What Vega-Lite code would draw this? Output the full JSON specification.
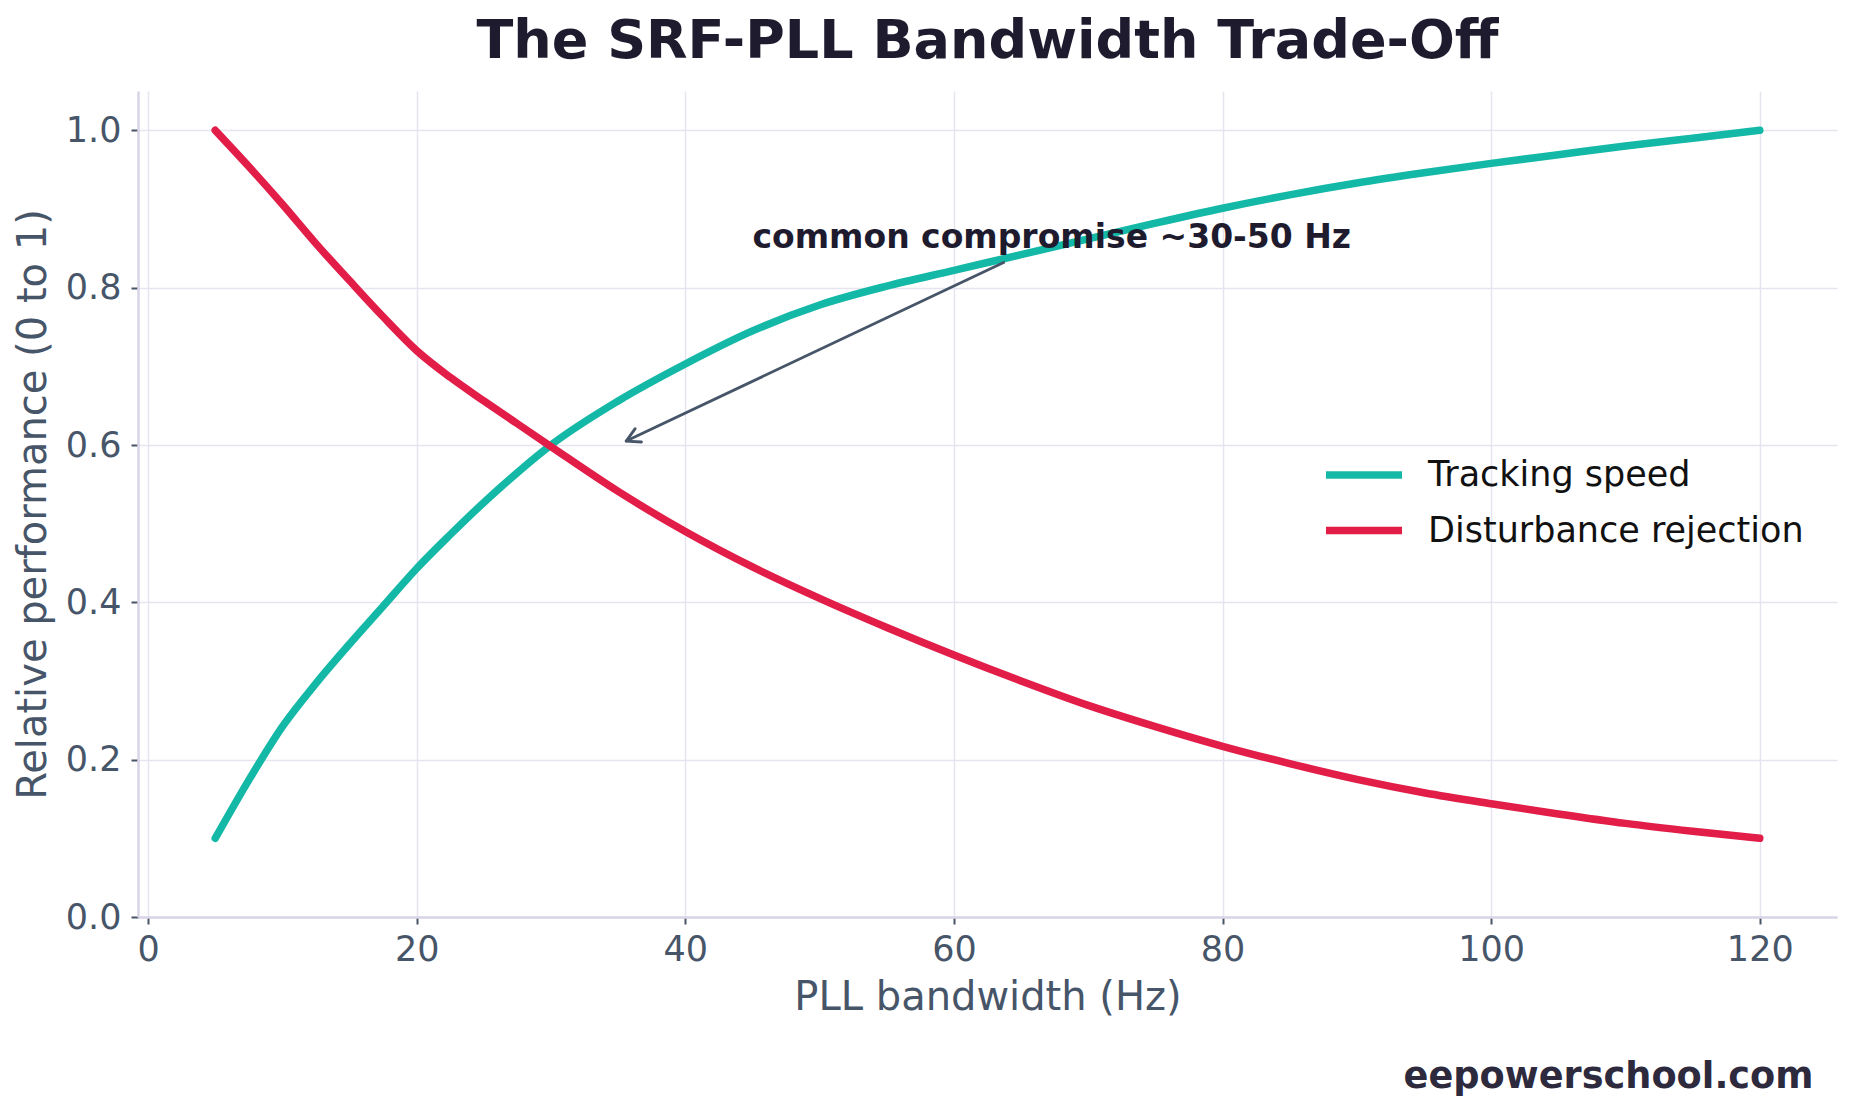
{
  "$schema": "https://vega.github.io/schema/vega-lite/v6.json",
  "autosize": {"type": "none"},
  "padding": {"left": 138, "top": 91, "right": 15, "bottom": 196},
  "width": 1699,
  "height": 826,
  "background": "white",
  "title": {
    "text": "The SRF-PLL Bandwidth Trade-Off",
    "anchor": "middle",
    "font": "DejaVu Sans",
    "fontSize": 54,
    "fontWeight": "bold",
    "color": "#1e1b2f",
    "baseline": "alphabetic",
    "offset": -21
  },
  "config": {
    "view": {"stroke": null},
    "axis": {
      "domainColor": "#d9d5e7",
      "domainWidth": 2.5,
      "tickColor": "#475569",
      "tickWidth": 2,
      "tickSize": 7,
      "labelFont": "DejaVu Sans",
      "labelFontSize": 35,
      "labelColor": "#475569",
      "titleFont": "DejaVu Sans",
      "titleFontSize": 40,
      "titleFontWeight": "normal",
      "titleColor": "#475569",
      "gridColor": "#e6e4ef",
      "gridWidth": 1.5
    },
    "legend": {
      "labelFont": "DejaVu Sans",
      "labelFontSize": 35,
      "labelColor": "#111111",
      "labelLimit": 0
    }
  },
  "layer": [
    {
      "data": {
        "values": [
          {"bw": 5, "perf": 0.1, "series": "Tracking speed"},
          {"bw": 7.5, "perf": 0.174, "series": "Tracking speed"},
          {"bw": 10, "perf": 0.242, "series": "Tracking speed"},
          {"bw": 12.5, "perf": 0.297, "series": "Tracking speed"},
          {"bw": 15, "perf": 0.347, "series": "Tracking speed"},
          {"bw": 17.5, "perf": 0.395, "series": "Tracking speed"},
          {"bw": 20, "perf": 0.443, "series": "Tracking speed"},
          {"bw": 22.5, "perf": 0.486, "series": "Tracking speed"},
          {"bw": 25, "perf": 0.527, "series": "Tracking speed"},
          {"bw": 27.5, "perf": 0.565, "series": "Tracking speed"},
          {"bw": 30, "perf": 0.6, "series": "Tracking speed"},
          {"bw": 35, "perf": 0.656, "series": "Tracking speed"},
          {"bw": 40, "perf": 0.703, "series": "Tracking speed"},
          {"bw": 45, "perf": 0.745, "series": "Tracking speed"},
          {"bw": 50, "perf": 0.778, "series": "Tracking speed"},
          {"bw": 55, "perf": 0.802, "series": "Tracking speed"},
          {"bw": 60, "perf": 0.822, "series": "Tracking speed"},
          {"bw": 65, "perf": 0.842, "series": "Tracking speed"},
          {"bw": 70, "perf": 0.862, "series": "Tracking speed"},
          {"bw": 75, "perf": 0.882, "series": "Tracking speed"},
          {"bw": 80, "perf": 0.901, "series": "Tracking speed"},
          {"bw": 85, "perf": 0.918, "series": "Tracking speed"},
          {"bw": 90, "perf": 0.933, "series": "Tracking speed"},
          {"bw": 95, "perf": 0.946, "series": "Tracking speed"},
          {"bw": 100, "perf": 0.958, "series": "Tracking speed"},
          {"bw": 105, "perf": 0.969, "series": "Tracking speed"},
          {"bw": 110, "perf": 0.98, "series": "Tracking speed"},
          {"bw": 115, "perf": 0.99, "series": "Tracking speed"},
          {"bw": 120, "perf": 1.0, "series": "Tracking speed"},
          {"bw": 5, "perf": 1.0, "series": "Disturbance rejection"},
          {"bw": 7.5, "perf": 0.954, "series": "Disturbance rejection"},
          {"bw": 10, "perf": 0.906, "series": "Disturbance rejection"},
          {"bw": 12.5, "perf": 0.856, "series": "Disturbance rejection"},
          {"bw": 15, "perf": 0.809, "series": "Disturbance rejection"},
          {"bw": 17.5, "perf": 0.763, "series": "Disturbance rejection"},
          {"bw": 20, "perf": 0.72, "series": "Disturbance rejection"},
          {"bw": 22.5, "perf": 0.686, "series": "Disturbance rejection"},
          {"bw": 25, "perf": 0.656, "series": "Disturbance rejection"},
          {"bw": 27.5, "perf": 0.627, "series": "Disturbance rejection"},
          {"bw": 30, "perf": 0.598, "series": "Disturbance rejection"},
          {"bw": 35, "perf": 0.541, "series": "Disturbance rejection"},
          {"bw": 40, "perf": 0.49, "series": "Disturbance rejection"},
          {"bw": 45, "perf": 0.445, "series": "Disturbance rejection"},
          {"bw": 50, "perf": 0.405, "series": "Disturbance rejection"},
          {"bw": 55, "perf": 0.368, "series": "Disturbance rejection"},
          {"bw": 60, "perf": 0.333, "series": "Disturbance rejection"},
          {"bw": 65, "perf": 0.3, "series": "Disturbance rejection"},
          {"bw": 70, "perf": 0.269, "series": "Disturbance rejection"},
          {"bw": 75, "perf": 0.242, "series": "Disturbance rejection"},
          {"bw": 80, "perf": 0.217, "series": "Disturbance rejection"},
          {"bw": 85, "perf": 0.195, "series": "Disturbance rejection"},
          {"bw": 90, "perf": 0.175, "series": "Disturbance rejection"},
          {"bw": 95, "perf": 0.158, "series": "Disturbance rejection"},
          {"bw": 100, "perf": 0.144, "series": "Disturbance rejection"},
          {"bw": 105, "perf": 0.131, "series": "Disturbance rejection"},
          {"bw": 110, "perf": 0.119, "series": "Disturbance rejection"},
          {"bw": 115, "perf": 0.109, "series": "Disturbance rejection"},
          {"bw": 120, "perf": 0.1, "series": "Disturbance rejection"}
        ]
      },
      "mark": {"type": "line", "strokeWidth": 7.5, "strokeCap": "round", "strokeJoin": "round", "interpolate": "monotone"},
      "encoding": {
        "x": {
          "field": "bw",
          "type": "quantitative",
          "title": "PLL bandwidth (Hz)",
          "scale": {"domain": [-0.75, 125.75], "nice": false, "zero": false},
          "axis": {"values": [0, 20, 40, 60, 80, 100, 120], "labelPadding": 8, "titlePadding": 10}
        },
        "y": {
          "field": "perf",
          "type": "quantitative",
          "title": "Relative performance (0 to 1)",
          "scale": {"domain": [0, 1.05], "nice": false},
          "axis": {"values": [0, 0.2, 0.4, 0.6, 0.8, 1.0], "format": ".1f", "labelPadding": 10, "titlePadding": 12}
        },
        "color": {
          "field": "series",
          "type": "nominal",
          "sort": ["Tracking speed", "Disturbance rejection"],
          "scale": {"domain": ["Tracking speed", "Disturbance rejection"], "range": ["#14b8a6", "#e11d48"]},
          "legend": {
            "title": null,
            "orient": "none",
            "legendX": 1203,
            "legendY": 361,
            "padding": 0,
            "symbolType": "M-2,0L2,0",
            "symbolSize": 1444,
            "symbolStrokeWidth": 7.5,
            "labelOffset": 41,
            "rowPadding": 14.5
          }
        }
      }
    },
    {
      "data": {"values": [{"x1": 63.7, "y1": 0.832, "x2": 35.6, "y2": 0.605}]},
      "mark": {"type": "rule", "color": "#475569", "strokeWidth": 2.8, "strokeCap": "round"},
      "encoding": {
        "x": {"field": "x1", "type": "quantitative"},
        "y": {"field": "y1", "type": "quantitative"},
        "x2": {"field": "x2"},
        "y2": {"field": "y2"}
      }
    },
    {
      "data": {"values": [{"x": 35.6, "y": 0.605}]},
      "mark": {
        "type": "point",
        "shape": "M-1,-0.55L0,0L-1,0.55",
        "size": 718,
        "angle": 154.7,
        "filled": false,
        "opacity": 1,
        "stroke": "#475569",
        "strokeWidth": 2.8,
        "strokeCap": "round",
        "strokeJoin": "round"
      },
      "encoding": {
        "x": {"field": "x", "type": "quantitative"},
        "y": {"field": "y", "type": "quantitative"}
      }
    },
    {
      "data": {"values": [{"x": 45, "y": 0.85, "label": "common compromise ~30-50 Hz"}]},
      "mark": {
        "type": "text",
        "align": "left",
        "baseline": "alphabetic",
        "font": "DejaVu Sans",
        "fontSize": 33,
        "fontWeight": "bold",
        "color": "#1e1b2f"
      },
      "encoding": {
        "x": {"field": "x", "type": "quantitative"},
        "y": {"field": "y", "type": "quantitative"},
        "text": {"field": "label"}
      }
    },
    {
      "data": {"values": [{"x": 124.0, "y": -0.2168, "label": "eepowerschool.com"}]},
      "mark": {
        "type": "text",
        "align": "right",
        "baseline": "alphabetic",
        "font": "DejaVu Sans",
        "fontSize": 36.7,
        "fontWeight": "bold",
        "color": "#2e2a3e"
      },
      "encoding": {
        "x": {"field": "x", "type": "quantitative"},
        "y": {"field": "y", "type": "quantitative"},
        "text": {"field": "label"}
      }
    }
  ]
}
